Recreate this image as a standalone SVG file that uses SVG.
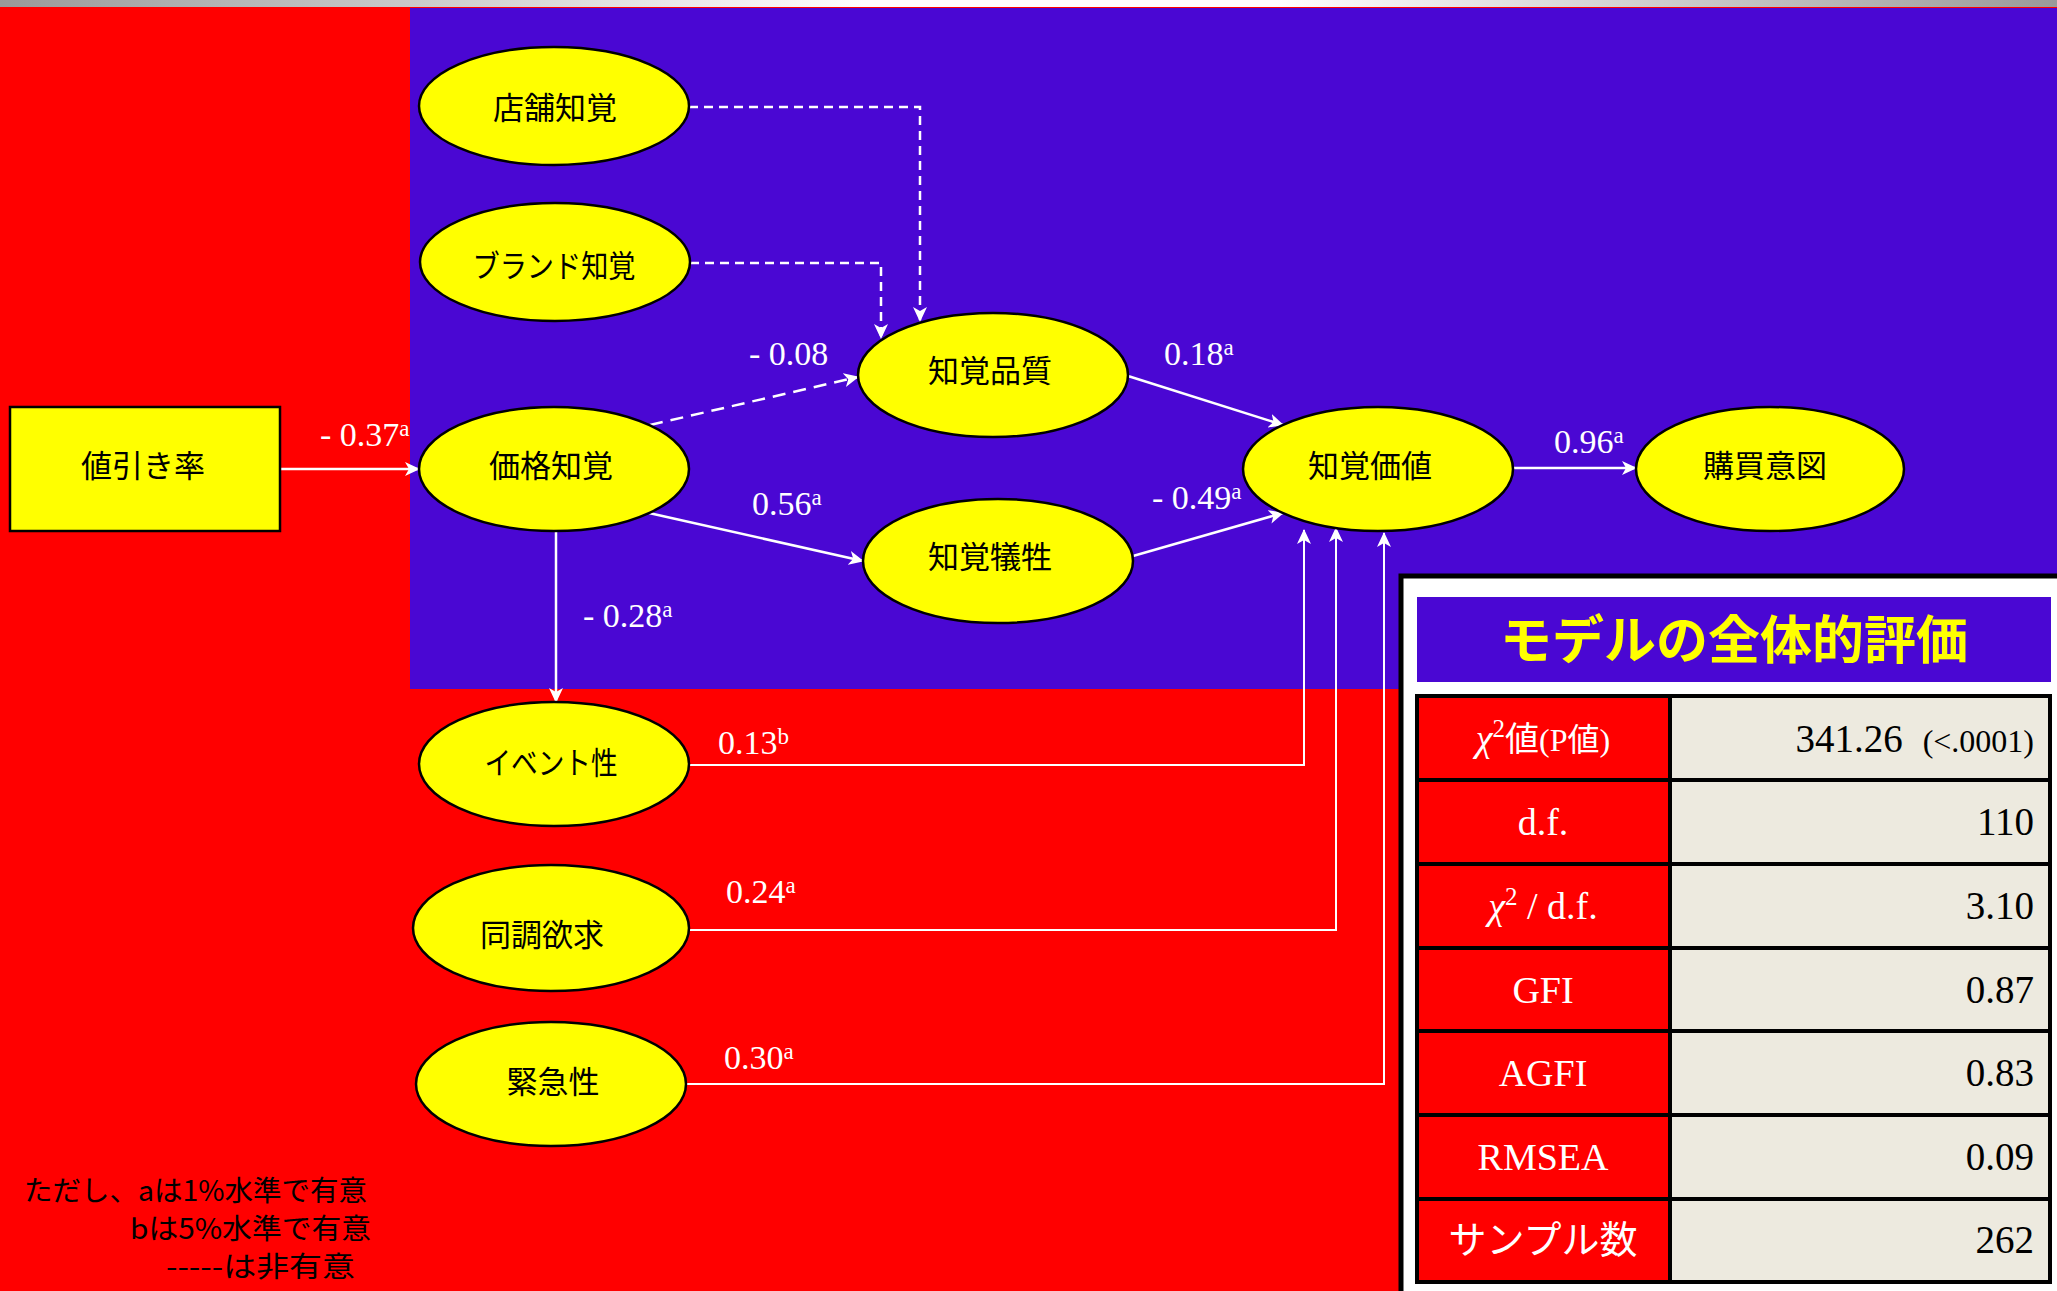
<svg xmlns="http://www.w3.org/2000/svg" width="2057" height="1291" viewBox="0 0 2057 1291">
<defs>
<linearGradient id="topbar" x1="0" y1="0" x2="1" y2="0">
<stop offset="0" stop-color="#9a9a9a"/>
<stop offset="0.42" stop-color="#ffffff"/>
<stop offset="0.62" stop-color="#ffffff"/>
<stop offset="1" stop-color="#9a9a9a"/>
</linearGradient>
<marker id="arr" markerUnits="userSpaceOnUse" markerWidth="16" markerHeight="14" refX="14" refY="7" orient="auto" viewBox="0 0 16 14">
<path d="M0,0 L15,7 L0,14 L4,7 z" fill="#ffffff"/>
</marker>
</defs>
<style>
.node{fill:#ffff00;stroke:#000;stroke-width:2.5}
.nt{font-family:"Noto Sans CJK JP","Noto Sans",sans-serif;font-size:31px;fill:#000;text-anchor:middle}
.e{fill:none;stroke:#fff;stroke-width:2.5;marker-end:url(#arr)}
.thin{stroke-width:2}
.dash{stroke-dasharray:9 6}
.dash2{stroke-dasharray:13 8}
.el{font-family:"Liberation Serif","Times New Roman",serif;font-size:34px;fill:#fff}
.sup{font-size:23px}
.lab{font-family:"Liberation Serif","Noto Sans CJK JP",serif;font-size:38px;fill:#fff;text-anchor:middle}
.val{font-family:"Liberation Serif","Times New Roman",serif;font-size:39px;fill:#000;text-anchor:end}
.cellL{fill:#ff0000;stroke:#000;stroke-width:4}
.cellR{fill:#edeadf;stroke:#000;stroke-width:4}
.leg{font-family:"Noto Sans CJK JP","Noto Sans",sans-serif;font-size:28px;fill:#000}
</style>

<!-- backgrounds -->
<rect x="0" y="0" width="2057" height="1291" fill="#ff0000"/>
<rect x="0" y="0" width="2057" height="7" fill="url(#topbar)"/>
<rect x="410" y="8" width="1647" height="681" fill="#4a07d3"/>

<!-- connectors -->
<g id="connectors">
<line class="e" x1="280" y1="469" x2="419" y2="469"/>
<polyline class="e dash" points="689,107 920,107 920,321"/>
<polyline class="e dash" points="690,263 881,263 881,338"/>
<line class="e dash2" x1="650" y1="425" x2="858" y2="377"/>
<line class="e" x1="649" y1="513" x2="863" y2="561"/>
<line class="e" x1="1128" y1="376" x2="1283" y2="425"/>
<line class="e" x1="1133" y1="556" x2="1283" y2="513"/>
<line class="e" x1="1513" y1="468" x2="1636" y2="468"/>
<line class="e" x1="556" y1="531" x2="556" y2="702"/>
<polyline class="e thin" points="689,765 1304,765 1304,530"/>
<polyline class="e thin" points="690,930 1336,930 1336,528"/>
<polyline class="e thin" points="687,1084 1384,1084 1384,533"/>
</g>

<!-- edge labels -->
<g id="edge-labels">
<text class="el" x="320" y="446">- 0.37<tspan class="sup" dy="-10">a</tspan></text>
<text class="el" x="749" y="365">- 0.08</text>
<text class="el" x="1164" y="365">0.18<tspan class="sup" dy="-10">a</tspan></text>
<text class="el" x="752" y="515">0.56<tspan class="sup" dy="-10">a</tspan></text>
<text class="el" x="1152" y="509">- 0.49<tspan class="sup" dy="-10">a</tspan></text>
<text class="el" x="583" y="627">- 0.28<tspan class="sup" dy="-10">a</tspan></text>
<text class="el" x="1554" y="453">0.96<tspan class="sup" dy="-10">a</tspan></text>
<text class="el" x="718" y="754">0.13<tspan class="sup" dy="-10">b</tspan></text>
<text class="el" x="726" y="903">0.24<tspan class="sup" dy="-10">a</tspan></text>
<text class="el" x="724" y="1069">0.30<tspan class="sup" dy="-10">a</tspan></text>
</g>

<!-- nodes -->
<g id="n-nebiki">
<rect class="node" x="10" y="407" width="270" height="124"/>
<text class="nt" x="143" y="477">値引き率</text>
</g>
<g id="n-tenpo">
<ellipse class="node" cx="554" cy="106" rx="135" ry="59"/>
<text class="nt" x="555" y="119">店舗知覚</text>
</g>
<g id="n-brand">
<ellipse class="node" cx="555" cy="262" rx="135" ry="59"/>
<text class="nt" x="554" y="277" textLength="163" lengthAdjust="spacingAndGlyphs">ブランド知覚</text>
</g>
<g id="n-kakaku">
<ellipse class="node" cx="554" cy="469" rx="135" ry="62"/>
<text class="nt" x="551" y="477">価格知覚</text>
</g>
<g id="n-hinshitsu">
<ellipse class="node" cx="993" cy="375" rx="135" ry="62"/>
<text class="nt" x="990" y="382">知覚品質</text>
</g>
<g id="n-gisei">
<ellipse class="node" cx="998" cy="561" rx="135" ry="62"/>
<text class="nt" x="990" y="568">知覚犠牲</text>
</g>
<g id="n-kachi">
<ellipse class="node" cx="1378" cy="469" rx="135" ry="62"/>
<text class="nt" x="1370" y="477">知覚価値</text>
</g>
<g id="n-kobai">
<ellipse class="node" cx="1770" cy="469" rx="134" ry="62"/>
<text class="nt" x="1765" y="477">購買意図</text>
</g>
<g id="n-event">
<ellipse class="node" cx="554" cy="764" rx="135" ry="62"/>
<text class="nt" x="551" y="774" textLength="133" lengthAdjust="spacingAndGlyphs">イベント性</text>
</g>
<g id="n-docho">
<ellipse class="node" cx="551" cy="928" rx="138" ry="63"/>
<text class="nt" x="542" y="946">同調欲求</text>
</g>
<g id="n-kinkyu">
<ellipse class="node" cx="551" cy="1084" rx="135" ry="62"/>
<text class="nt" x="553" y="1093">緊急性</text>
</g>

<!-- legend -->
<g id="legend">
<text class="leg" x="24" y="1201" textLength="343" lengthAdjust="spacingAndGlyphs">ただし、aは1%水準で有意</text>
<text class="leg" x="130" y="1239" textLength="241" lengthAdjust="spacingAndGlyphs">bは5%水準で有意</text>
<text class="leg" x="166" y="1277" textLength="189" lengthAdjust="spacingAndGlyphs">-----は非有意</text>
</g>

<!-- evaluation panel -->
<g id="evaluation">
<rect x="1401" y="576" width="670" height="730" fill="#ffffff" stroke="#000" stroke-width="5"/>
<rect x="1417" y="597" width="634" height="85" fill="#4a07d3"/>
<text x="1734" y="659" font-family="'Noto Sans CJK JP','Noto Sans',sans-serif" font-size="52" font-weight="bold" fill="#ffff00" text-anchor="middle">モデルの全体的評価</text>

<rect class="cellL" x="1417" y="696" width="253" height="84"/>
<rect class="cellR" x="1670" y="696" width="380" height="84"/>
<rect class="cellL" x="1417" y="780" width="253" height="84"/>
<rect class="cellR" x="1670" y="780" width="380" height="84"/>
<rect class="cellL" x="1417" y="864" width="253" height="84"/>
<rect class="cellR" x="1670" y="864" width="380" height="84"/>
<rect class="cellL" x="1417" y="948" width="253" height="83"/>
<rect class="cellR" x="1670" y="948" width="380" height="83"/>
<rect class="cellL" x="1417" y="1031" width="253" height="84"/>
<rect class="cellR" x="1670" y="1031" width="380" height="84"/>
<rect class="cellL" x="1417" y="1115" width="253" height="84"/>
<rect class="cellR" x="1670" y="1115" width="380" height="84"/>
<rect class="cellL" x="1417" y="1199" width="253" height="83"/>
<rect class="cellR" x="1670" y="1199" width="380" height="83"/>

<text class="lab" x="1543" y="751"><tspan font-style="italic">χ</tspan><tspan font-size="25" dy="-14">2</tspan><tspan dy="14" font-family="'Noto Sans CJK JP',sans-serif" font-size="34">値</tspan><tspan font-size="32">(P</tspan><tspan font-size="32" font-family="'Noto Sans CJK JP',sans-serif">値</tspan><tspan font-size="32">)</tspan></text>
<text class="val" x="2034" y="752"><tspan>341.26</tspan><tspan font-size="32" dx="20">(&lt;.0001)</tspan></text>

<text class="lab" x="1543" y="835">d.f.</text>
<text class="val" x="2034" y="835">110</text>

<text class="lab" x="1543" y="919"><tspan font-style="italic">χ</tspan><tspan font-size="25" dy="-14">2</tspan><tspan dy="14"> / d.f.</tspan></text>
<text class="val" x="2034" y="919">3.10</text>

<text class="lab" x="1543" y="1003">GFI</text>
<text class="val" x="2034" y="1003">0.87</text>

<text class="lab" x="1543" y="1086">AGFI</text>
<text class="val" x="2034" y="1086">0.83</text>

<text class="lab" x="1543" y="1170">RMSEA</text>
<text class="val" x="2034" y="1170">0.09</text>

<text class="lab" x="1543" y="1253" font-family="'Noto Sans CJK JP',sans-serif" font-size="34">サンプル数</text>
<text class="val" x="2034" y="1253">262</text>
</g>
</svg>
